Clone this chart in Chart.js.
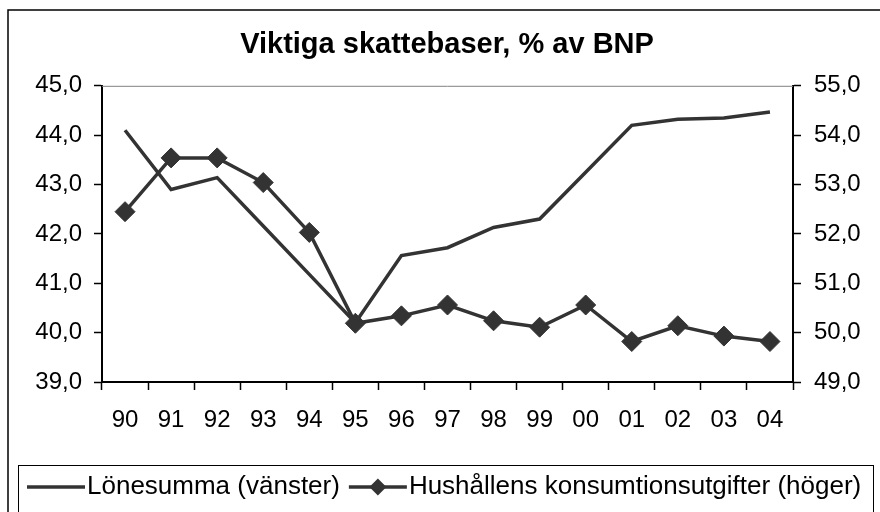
<!DOCTYPE html>
<html>
<head>
<meta charset="utf-8">
<script src="https://cdn.jsdelivr.net/npm/chart.js@4"></script>
<style>
  html, body { margin: 0; padding: 0; background: #fff; }
</style>
</head>
<body>
<canvas id="chart" width="880" height="512"></canvas>
<script>
// data
const years = ['90', '91', '92', '93', '94', '95', '96', '97', '98', '99', '00', '01', '02', '03', '04'];
const lonesumma = [44.10, 42.90, 43.14, 42.16, 41.18, 40.20, 41.56, 41.72, 42.13, 42.30, 43.25, 44.20, 44.32, 44.35, 44.47];
const hushall = [52.45, 53.54, 53.54, 53.04, 52.03, 50.19, 50.34, 50.56, 50.24, 50.11, 50.56, 49.82, 50.14, 49.93, 49.82];
const leftRange = [39, 45];
const rightRange = [49, 55];

const FONT = '"Liberation Sans", Arial, sans-serif';
const INK = '#333333';

const fmt = v => v.toFixed(1).replace('.', ',');

// frame + gray top border of plot area
const framePlugin = {
    id: 'frame',
    beforeDatasetsDraw(chart) {
        const {ctx, chartArea: a} = chart;
        ctx.save();
        ctx.strokeStyle = '#808080';
        ctx.lineWidth = 1;
        ctx.beginPath();
        ctx.moveTo(a.left, a.top + 0.5);
        ctx.lineTo(a.right, a.top + 0.5);
        ctx.stroke();
        ctx.restore();
    },
    afterDraw(chart) {
        const ctx = chart.ctx;
        ctx.save();
        ctx.strokeStyle = '#000';
        ctx.lineWidth = 1.5;
        ctx.beginPath();
        ctx.moveTo(8, 520);
        ctx.lineTo(8, 10);
        ctx.lineTo(890, 10);
        ctx.stroke();
        ctx.restore();
    }
};

// legend in a box at the bottom, like the Excel original
const boxLegend = {
    id: 'boxLegend',
    afterDraw(chart) {
        const ctx = chart.ctx;
        ctx.save();
        ctx.strokeStyle = '#000';
        ctx.lineWidth = 1;
        ctx.strokeRect(18.5, 465.5, 855, 60);

        ctx.font = '26px ' + FONT;
        ctx.textBaseline = 'middle';
        ctx.fillStyle = '#000';
        const y = 487;
        const sample = 58;
        const ds = chart.data.datasets;
        let x = 27;
        ds.forEach((d, i) => {
            ctx.strokeStyle = INK;
            ctx.lineWidth = 3.5;
            ctx.beginPath();
            ctx.moveTo(x, y);
            ctx.lineTo(x + sample, y);
            ctx.stroke();
            if (d.pointRadius > 0) {
                ctx.fillStyle = INK;
                const r = 8.5;
                const cx = x + sample / 2;
                ctx.beginPath();
                ctx.moveTo(cx - r, y);
                ctx.lineTo(cx, y - r);
                ctx.lineTo(cx + r, y);
                ctx.lineTo(cx, y + r);
                ctx.closePath();
                ctx.fill();
            }
            ctx.fillStyle = '#000';
            ctx.fillText(d.label, x + sample + 2, y);
            x += sample + 2 + ctx.measureText(d.label).width + 9;
        });
        ctx.restore();
    }
};

const data = {
    labels: years,
    datasets: [{
        label: 'Lönesumma (vänster)',
        data: lonesumma,
        yAxisID: 'y',
        borderColor: INK,
        backgroundColor: INK,
        borderWidth: 3.5,
        pointRadius: 0,
        pointHoverRadius: 0,
        tension: 0
    }, {
        label: 'Hushållens konsumtionsutgifter (höger)',
        data: hushall,
        yAxisID: 'y1',
        borderColor: INK,
        backgroundColor: INK,
        borderWidth: 3.5,
        pointStyle: 'rectRot',
        pointRadius: 10,
        pointBorderWidth: 1,
        pointBackgroundColor: INK,
        pointBorderColor: INK,
        tension: 0
    }]
};

const config = {
    type: 'line',
    data: data,
    options: {
        responsive: false,
        animation: false,
        events: [],
        layout: { padding: { left: 14, right: 0, top: 0, bottom: 0 } },
        plugins: {
            legend: { display: false },
            tooltip: { enabled: false },
            title: {
                display: true,
                text: 'Viktiga skattebaser, % av BNP',
                color: '#000',
                font: { family: FONT, size: 29, weight: 'bold', lineHeight: 1.2 },
                padding: { top: 28, bottom: 23 }
            }
        },
        scales: {
            x: {
                offset: true,
                grid: {
                    offset: true,
                    drawOnChartArea: false,
                    drawTicks: true,
                    tickLength: 8,
                    tickWidth: 1.5,
                    tickColor: '#000'
                },
                border: { color: '#000', width: 2 },
                ticks: {
                    color: '#000',
                    padding: 16,
                    maxRotation: 0,
                    autoSkip: false,
                    font: { family: FONT, size: 24 }
                },
                afterFit: s => { s.height = 130; }
            },
            y: {
                position: 'left',
                min: leftRange[0],
                max: leftRange[1],
                grid: {
                    drawOnChartArea: false,
                    tickLength: 8,
                    tickWidth: 1.5,
                    tickColor: '#000'
                },
                border: { color: '#000', width: 2 },
                ticks: {
                    stepSize: 1,
                    color: '#000',
                    padding: 12,
                    font: { family: FONT, size: 24 },
                    callback: v => fmt(v)
                },
                afterFit: s => { s.width = 88; }
            },
            y1: {
                position: 'right',
                min: rightRange[0],
                max: rightRange[1],
                grid: {
                    drawOnChartArea: false,
                    tickLength: 8,
                    tickWidth: 1.5,
                    tickColor: '#000'
                },
                border: { color: '#000', width: 2 },
                ticks: {
                    stepSize: 1,
                    color: '#000',
                    padding: 13,
                    font: { family: FONT, size: 24 },
                    callback: v => fmt(v)
                },
                afterFit: s => { s.width = 87; }
            }
        }
    },
    plugins: [framePlugin, boxLegend]
};

const chart = new Chart(document.getElementById('chart'), config);
</script>
</body>
</html>
